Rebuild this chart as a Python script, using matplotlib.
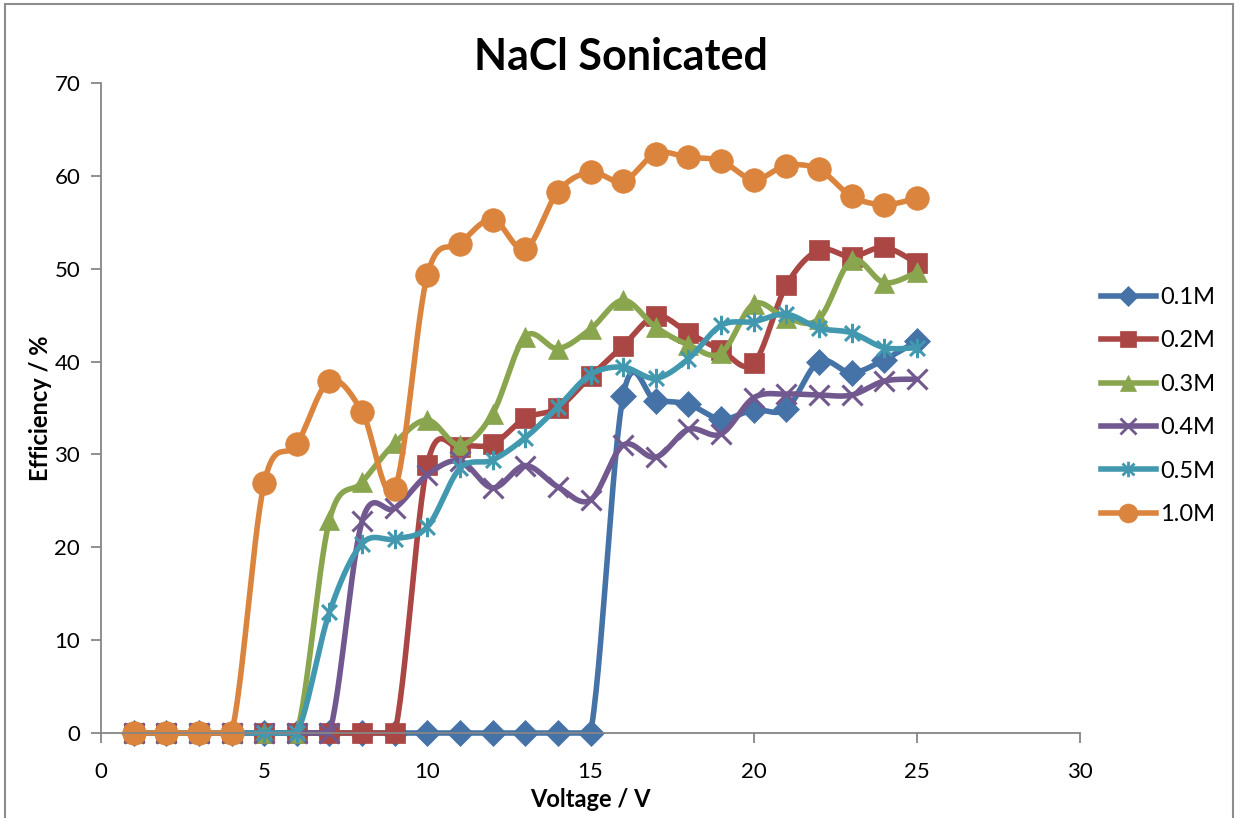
import numpy as np
import matplotlib
matplotlib.use("Agg")
import matplotlib.pyplot as plt
from matplotlib.path import Path
from matplotlib.patches import Rectangle

plt.rcParams['font.family'] = ['Lato', 'DejaVu Sans']

voltage = list(range(1, 26))

eff_01 = [0] * 15 + [36.3, 35.8, 35.4, 33.8, 34.8, 34.9, 40.0, 38.8, 40.2, 42.2]
eff_02 = [0] * 9 + [28.9, 30.8, 31.1, 33.9, 35.0, 38.4, 41.7, 44.9, 43.1, 41.2,
                    39.8, 48.2, 52.0, 51.3, 52.3, 50.6]
eff_03 = [0] * 6 + [22.9, 27.0, 31.2, 33.7, 31.0, 34.4, 42.7, 41.4, 43.5, 46.6,
                    43.7, 41.8, 40.9, 46.2, 44.7, 44.6, 50.9, 48.5, 49.6]
eff_04 = [0] * 7 + [22.8, 24.2, 27.8, 29.3, 26.4, 28.8, 26.5, 25.1, 31.0, 29.7,
                    32.7, 32.2, 36.1, 36.5, 36.4, 36.4, 37.9, 38.1]
eff_05 = [0] * 6 + [13.0, 20.4, 20.9, 22.2, 28.5, 29.4, 31.8, 35.1, 38.6, 39.4,
                    38.2, 40.3, 43.9, 44.3, 45.1, 43.6, 43.1, 41.5, 41.5]
eff_10 = [0] * 4 + [26.9, 31.1, 37.9, 34.6, 26.3, 49.3, 52.7, 55.3, 52.1, 58.3,
                    60.4, 59.4, 62.4, 62.0, 61.6, 59.6, 61.1, 60.7, 57.8, 56.9, 57.6]

labels = ["0.1M", "0.2M", "0.3M", "0.4M", "0.5M", "1.0M"]
series = [eff_01, eff_02, eff_03, eff_04, eff_05, eff_10]
colors = ["#4572A7", "#AA4643", "#89A54E", "#71588F", "#4198AF", "#DB843D"]

star = Path([(-1, -1), (1, 1), (-1, 1), (1, -1), (0, -1.3), (0, 1.3)],
            [Path.MOVETO, Path.LINETO] * 3)
markers = [("D", 13), ("s", 15), ("^", 15), ("x", 14), (star, 14), ("o", 17)]


def smooth(x, y, n=30):
    # Excel-style smoothed line: bezier through the points (catmull-rom)
    x = np.asarray(x, float)
    y = np.asarray(y, float)
    px = np.concatenate([[x[0]], x, [x[-1]]])
    py = np.concatenate([[y[0]], y, [y[-1]]])
    t = np.linspace(0, 1, n)[:, None]
    xs, ys = [], []
    for i in range(1, len(px) - 2):
        p0 = np.array([px[i], py[i]])
        p3 = np.array([px[i + 1], py[i + 1]])
        c1 = p0 + (np.array([px[i + 1], py[i + 1]]) - np.array([px[i - 1], py[i - 1]])) / 6
        c2 = p3 - (np.array([px[i + 2], py[i + 2]]) - np.array([px[i], py[i]])) / 6
        b = ((1 - t) ** 3) * p0 + 3 * ((1 - t) ** 2) * t * c1 + 3 * (1 - t) * t ** 2 * c2 + t ** 3 * p3
        xs.append(b[:, 0])
        ys.append(b[:, 1])
    # the plot area cuts off the overshoot below zero
    return np.concatenate(xs), np.maximum(np.concatenate(ys), 0)


fig = plt.figure(figsize=(12.42, 8.18), dpi=100)
ax = fig.add_axes([101 / 1242, 85 / 818, 979 / 1242, 650 / 818])

for vals, lab, col, (mk, ms) in zip(series, labels, colors, markers):
    thin = mk == "x" or mk is star
    sx, sy = smooth(voltage, vals)
    ax.plot(sx, sy, color=col, linewidth=4, solid_capstyle='round', clip_on=False)
    ax.plot(voltage, vals, linestyle='none', marker=mk, markersize=ms, color=col,
            markeredgewidth=2.2 if thin else 0.5, clip_on=False)
    ax.plot([], [], color=col, linewidth=4, marker=mk, markersize=ms * 0.8,
            markeredgewidth=2.0 if thin else 0.5, label=lab)

ax.set_xlim(0, 30)
ax.set_ylim(0, 70)
ax.set_xticks(range(0, 31, 5))
ax.set_yticks(range(0, 71, 10))
for s in ("top", "right"):
    ax.spines[s].set_visible(False)
for s in ("left", "bottom"):
    ax.spines[s].set_color("#868686")
    ax.spines[s].set_linewidth(1.3)
ax.tick_params(direction='out', length=7, width=1.3, color="#868686",
               labelsize=16)
ax.tick_params(axis='x', pad=14)
ax.tick_params(axis='y', pad=8)
ax.set_xlabel("Voltage / V", fontsize=17, fontweight='bold', labelpad=4)
ax.set_ylabel("Efficiency / %", fontsize=17, fontweight='bold', labelpad=2)
fig.text(0.5, 0.93, "NaCl Sonicated", ha='center', va='center',
         fontsize=31, fontweight='bold')

ax.legend(loc='center left', bbox_to_anchor=(1080 / 1242, 412 / 818),
          bbox_transform=fig.transFigure, frameon=False, fontsize=17,
          handlelength=2.3, labelspacing=0.95, handletextpad=0.2)

fig.patches.append(Rectangle((5 / 1242, -0.02), 1228 / 1242, 1.02 - 4 / 818,
                             transform=fig.transFigure, fill=False,
                             edgecolor="#8c8c8c", linewidth=1.5))

fig.savefig("out.png", dpi=100)
